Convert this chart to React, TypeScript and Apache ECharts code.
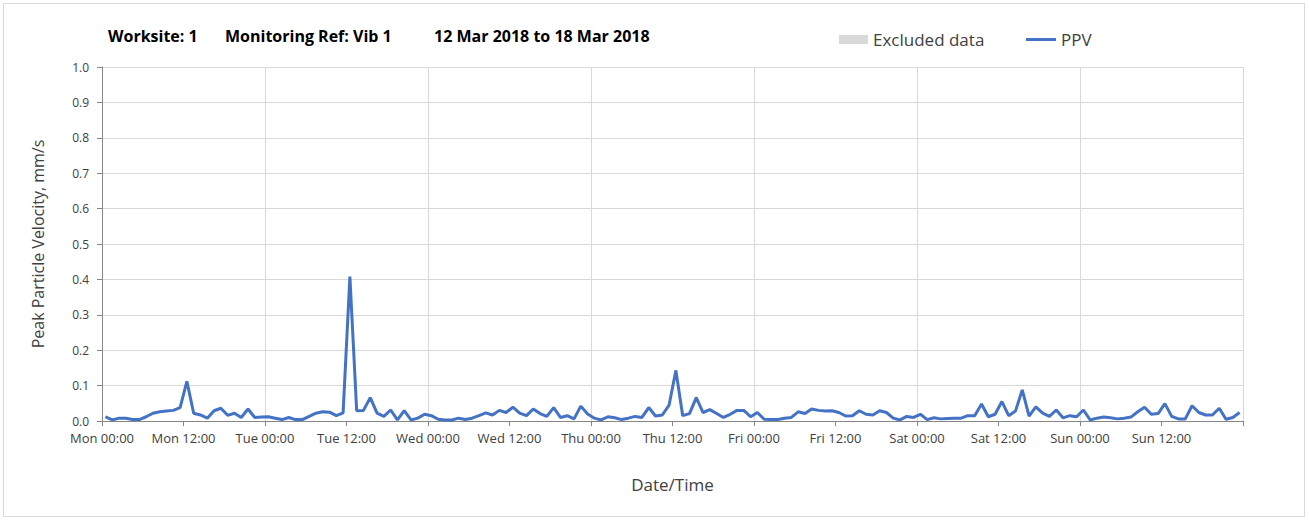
import React, { useEffect, useRef } from "react";
import * as echarts from "echarts";

// Hourly PPV readings (mm/s), one array per day, readings at hh:30
const monValues = [0.012, 0.003, 0.008, 0.008, 0.004, 0.004, 0.012, 0.022, 0.026, 0.028, 0.030, 0.038, 0.112, 0.022, 0.017, 0.008, 0.029, 0.036, 0.016, 0.022, 0.010, 0.034, 0.010, 0.011];
const tueValues = [0.012, 0.008, 0.004, 0.010, 0.004, 0.004, 0.013, 0.022, 0.026, 0.025, 0.015, 0.023, 0.408, 0.029, 0.030, 0.066, 0.022, 0.013, 0.031, 0.003, 0.029, 0.003, 0.008, 0.019];
const wedValues = [0.015, 0.005, 0.003, 0.003, 0.008, 0.004, 0.008, 0.015, 0.023, 0.017, 0.030, 0.024, 0.039, 0.022, 0.015, 0.034, 0.021, 0.013, 0.038, 0.010, 0.015, 0.006, 0.042, 0.020];
const thuValues = [0.008, 0.003, 0.012, 0.009, 0.004, 0.008, 0.013, 0.010, 0.038, 0.014, 0.017, 0.045, 0.143, 0.015, 0.021, 0.066, 0.024, 0.032, 0.021, 0.010, 0.019, 0.030, 0.030, 0.012];
const friValues = [0.024, 0.005, 0.004, 0.004, 0.008, 0.010, 0.026, 0.021, 0.034, 0.030, 0.028, 0.029, 0.024, 0.014, 0.015, 0.029, 0.019, 0.017, 0.029, 0.024, 0.008, 0.003, 0.013, 0.010];
const satValues = [0.019, 0.004, 0.009, 0.006, 0.007, 0.008, 0.008, 0.015, 0.015, 0.048, 0.012, 0.019, 0.055, 0.015, 0.028, 0.088, 0.014, 0.040, 0.022, 0.013, 0.031, 0.009, 0.015, 0.012];
const sunValues = [0.031, 0.003, 0.008, 0.011, 0.009, 0.006, 0.008, 0.011, 0.026, 0.039, 0.019, 0.021, 0.049, 0.013, 0.006, 0.006, 0.043, 0.024, 0.017, 0.017, 0.036, 0.005, 0.010, 0.024];

const tickLabels = [
  "Mon 00:00", "Mon 12:00", "Tue 00:00", "Tue 12:00", "Wed 00:00", "Wed 12:00",
  "Thu 00:00", "Thu 12:00", "Fri 00:00", "Fri 12:00", "Sat 00:00", "Sat 12:00",
  "Sun 00:00", "Sun 12:00",
];
const yTicks = [0, 0.1, 0.2, 0.3, 0.4, 0.5, 0.6, 0.7, 0.8, 0.9, 1.0];

const titleParts = ["Worksite: 1", "Monitoring Ref: Vib 1", "12 Mar 2018 to 18 Mar 2018"];
const seriesNames = ["Excluded data", "PPV"];

const FONT = "'Open Sans', 'Liberation Sans', sans-serif";

export default function App() {
  const ref = useRef<HTMLDivElement>(null);
  useEffect(() => {
    if (!ref.current) return;
    const chart = echarts.init(ref.current, undefined, { renderer: "svg" });
    const all = [...monValues, ...tueValues, ...wedValues, ...thuValues, ...friValues, ...satValues, ...sunValues];
    const data = all.map((v, i) => [i + 0.5, v]);
    const axisColor = "#868686";
    const textColor = "#404040";
    const titleStyle = { fontSize: 16, fontWeight: "bold", color: "#000", fontFamily: FONT };
    chart.setOption({
      animation: false,
      textStyle: { fontFamily: FONT },
      title: [
        { text: titleParts[0], left: 103, top: 23, textStyle: titleStyle },
        { text: titleParts[1], left: 220, top: 23, textStyle: titleStyle },
        { text: titleParts[2], left: 429, top: 23, textStyle: titleStyle },
      ],
      graphic: [
        { type: "rect", shape: { x: 3.5, y: 3.5, width: 1301, height: 513 }, style: { fill: "none", stroke: "#d9d9d9", lineWidth: 1 }, silent: true },
      ],
      legend: [
        {
          data: [{ name: seriesNames[0], icon: "rect" }],
          left: 834, top: 26, itemWidth: 29, itemHeight: 9,
          textStyle: { fontSize: 17, color: textColor, fontFamily: FONT },
        },
        {
          data: [{ name: seriesNames[1], icon: "rect" }],
          left: 1021, top: 26, itemWidth: 30, itemHeight: 3,
          textStyle: { fontSize: 17, color: textColor, fontFamily: FONT },
        },
      ],
      grid: { left: 102, right: 66, top: 67, bottom: 100 },
      xAxis: [
        {
          type: "value", min: 0, max: 168, interval: 12,
          axisLine: { lineStyle: { color: axisColor } },
          axisTick: { show: true, length: 5, lineStyle: { color: axisColor } },
          axisLabel: {
            formatter: (v: number) => tickLabels[Math.round(v / 12)] ?? "",
            color: textColor, fontSize: 13, margin: 10, fontFamily: FONT,
          },
          splitLine: { show: false },
          name: "Date/Time", nameLocation: "middle", nameGap: 55,
          nameTextStyle: { fontSize: 17, color: textColor, fontFamily: FONT },
        },
        {
          type: "value", min: 0, max: 168, interval: 24, position: "bottom",
          axisLine: { show: false }, axisTick: { show: false }, axisLabel: { show: false },
          splitLine: { show: true, lineStyle: { color: "#d9d9d9", width: 1 } },
        },
      ],
      yAxis: {
        type: "value", min: yTicks[0], max: yTicks[yTicks.length - 1], interval: 0.1,
        axisLine: { show: true, lineStyle: { color: axisColor } },
        axisTick: { show: true, length: 5, lineStyle: { color: axisColor } },
        axisLabel: { formatter: (v: number) => v.toFixed(1), color: textColor, fontSize: 12, margin: 13, fontFamily: FONT },
        splitLine: { show: true, lineStyle: { color: "#d9d9d9", width: 1 } },
        name: "Peak Particle Velocity, mm/s", nameLocation: "middle", nameGap: 56,
        nameTextStyle: { fontSize: 16, color: textColor, fontFamily: FONT },
      },
      series: [
        { name: seriesNames[0], type: "bar", data: [], itemStyle: { color: "#d9d9d9" } },
        {
          name: seriesNames[1], type: "line", xAxisIndex: 0, data,
          symbol: "none", showSymbol: false,
          lineStyle: { color: "#4472c4", width: 3 },
          itemStyle: { color: "#4472c4" },
        },
      ],
    });
    return () => chart.dispose();
  }, []);
  return <div ref={ref} style={{ position: "absolute", left: 0, top: 0, width: 1309, height: 521, background: "#fff" }} />;
}
